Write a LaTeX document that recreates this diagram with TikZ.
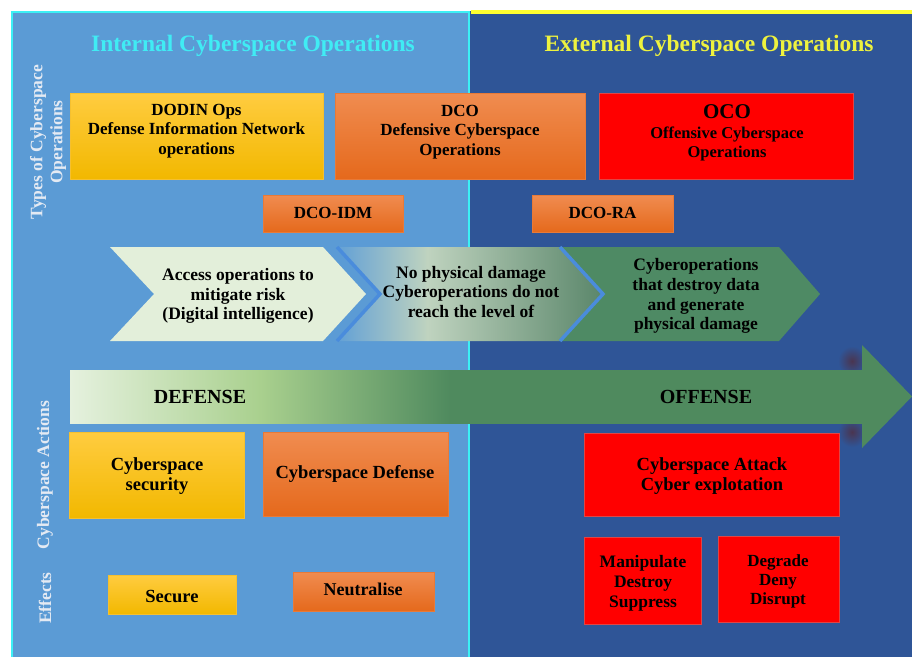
\documentclass[tikz,border=0pt]{standalone}
\usepackage{fontspec}
\setmainfont{Liberation Serif}
\definecolor{leftbg}{HTML}{5B9BD5}
\definecolor{rightbg}{HTML}{2F5597}
\definecolor{cyanln}{HTML}{3CF0F5}
\definecolor{yelln}{HTML}{FFFF30}
\definecolor{cyantitle}{HTML}{40ECF4}
\definecolor{yeltitle}{HTML}{EEF23E}
\definecolor{sidetxt}{HTML}{E4EAF3}
\definecolor{ytop}{HTML}{FFCC40}
\definecolor{ybot}{HTML}{F2B800}
\definecolor{ybord}{HTML}{F5C030}
\definecolor{otop}{HTML}{F08C50}
\definecolor{obot}{HTML}{E5691C}
\definecolor{obord}{HTML}{E87A38}
\definecolor{redbox}{HTML}{FF0000}
\definecolor{rbord}{HTML}{E04545}
\definecolor{chevone}{HTML}{E3EFDA}
\definecolor{chevthree}{HTML}{4E8A64}
\definecolor{chevedge}{HTML}{4A8CDC}
\definecolor{chA}{HTML}{62A0D6}
\definecolor{chB}{HTML}{BFD3BF}
\definecolor{chC}{HTML}{5A866A}
\definecolor{abA}{HTML}{E5F1DE}
\definecolor{abB}{HTML}{A9D08E}
\definecolor{abC}{HTML}{4F8A5E}
\definecolor{shad}{HTML}{4A3550}
\pgfdeclarehorizontalshading{chevmid}{100bp}{color(0bp)=(chA); color(25bp)=(chA); color(42bp)=(chB); color(75bp)=(chC); color(100bp)=(chC)}
\pgfdeclarehorizontalshading{arrowbody}{100bp}{color(0bp)=(abA); color(25bp)=(abA); color(37bp)=(abB); color(49bp)=(abC); color(75bp)=(abC); color(100bp)=(abC)}
\begin{document}
\begin{tikzpicture}[x=1pt,y=-1pt,
  txt/.style={font=\bfseries\fontsize{17}{19.5}\selectfont, align=center, text=black, inner sep=0},
  acttxt/.style={txt, font=\bfseries\fontsize{18.5}{20}\selectfont},
  chevtxt/.style={txt, font=\bfseries\fontsize{17.5}{19.8}\selectfont},
  ybox/.style={draw=ybord, line width=0.4, top color=ytop, bottom color=ybot, inner sep=0},
  obox/.style={draw=obord, line width=0.4, top color=otop, bottom color=obot, inner sep=0},
  rbox/.style={draw=rbord, line width=0.7, fill=redbox, inner sep=0},
  side/.style={font=\bfseries\fontsize{17.5}{20}\selectfont, text=sidetxt, rotate=90, align=center, inner sep=0},
  title/.style={font=\bfseries\fontsize{23.5}{26}\selectfont, inner sep=0}]
\useasboundingbox (0,0) rectangle (912,657);
\fill[white] (0,0) rectangle (912,657);
% panels
\fill[leftbg] (11,11) rectangle (470,657);
\fill[rightbg] (470,11) rectangle (912,657);
\draw[cyanln, line width=2.5] (12.2,657) -- (12.2,12.2) -- (469,12.2) -- (469,657);
\draw[yelln, line width=3.5] (470.5,12.2) -- (912,12.2);
% titles
\node[title, text=cyantitle] (intT) at (253,46) {Internal Cyberspace Operations};
\node[title, text=yeltitle] (extT) at (709,46) {External Cyberspace Operations};
% side labels
\node[side] (typesL) at (48,142) {Types of Cyberspace\\Operations};
\node[side] (actL) at (45,475) {Cyberspace Actions};
\node[side] (effL) at (45,598) {Effects};
% types of operations
\node[ybox, minimum width=253, minimum height=86] (dodin) at (196.5,136) {};
\node[txt] (dodinT) at (196.5,131) {DODIN Ops\\Defense Information Network\\operations};
\node[obox, minimum width=250, minimum height=86] (dco) at (460,136) {};
\node[txt] (dcoT) at (460,132) {DCO\\Defensive Cyberspace\\Operations};
\node[rbox, minimum width=254, minimum height=86] (oco) at (726,136) {};
\node[txt, font=\bfseries\fontsize{16.5}{19.5}\selectfont] (ocoT) at (727,133) {{\fontsize{21}{19.5}\selectfont OCO}\\Offensive Cyberspace\\Operations};
\node[obox, minimum width=140, minimum height=37] (idm) at (333,213.5) {};
\node[txt] (idmT) at (333,213) {DCO-IDM};
\node[obox, minimum width=141, minimum height=37] (ra) at (602.5,213.5) {};
\node[txt] (raT) at (602.5,213) {DCO-RA};
% chevrons
\fill[chevthree] (561,247) -- (779,247) -- (820,294) -- (779,341) -- (561,341) -- (604,294) -- cycle;
\path[shading=chevmid] (337,247) -- (560,247) -- (603,294) -- (560,341) -- (337,341) -- (380,294) -- cycle;
\draw[chevedge, line width=3.5] (337,247) -- (380,294) -- (337,341);
\draw[chevedge, line width=3.5] (560,247) -- (603,294) -- (560,341);
\fill[chevone] (110,247) -- (323,247) -- (366,294) -- (323,341) -- (110,341) -- (154,294) -- cycle;
\node[chevtxt] (c1T) at (238,296) {Access operations to\\mitigate risk\\(Digital intelligence)};
\node[chevtxt] (c2T) at (471,292) {No physical damage\\Cyberoperations do not\\reach the level of};
\node[chevtxt] (c3T) at (696,296) {Cyberoperations\\that destroy data\\and generate\\physical damage};
% big arrow with soft shadow at the head
\shade[inner color=shad, outer color=rightbg] (838,346) rectangle (866,376);
\shade[inner color=shad, outer color=rightbg] (838,417) rectangle (866,447);
\path[shading=arrowbody] (70,370) rectangle (862,423);
\fill[abC] (861,370) -- (862,370) -- (862,345) -- (912,396.5) -- (862,448) -- (862,423) -- (861,423) -- cycle;
\node[txt, font=\bfseries\fontsize{20}{22}\selectfont] (defT) at (200,397) {DEFENSE};
\node[txt, font=\bfseries\fontsize{20}{22}\selectfont] (offT) at (706,397) {OFFENSE};
% actions
\node[ybox, minimum width=175, minimum height=86] (sec) at (156.5,475) {};
\node[acttxt] (secT) at (157,476) {Cyberspace\\security};
\node[obox, minimum width=185, minimum height=84] (def) at (355.5,474) {};
\node[acttxt] (defBT) at (355,474) {Cyberspace Defense};
\node[rbox, minimum width=255, minimum height=83] (att) at (711.5,474.5) {};
\node[acttxt] (attT) at (712,476) {Cyberspace Attack\\Cyber explotation};
% effects
\node[ybox, minimum width=128, minimum height=39] (secure) at (172,594.5) {};
\node[acttxt, font=\bfseries\fontsize{18.5}{20}\selectfont] (secureT) at (172,596) {Secure};
\node[obox, minimum width=141, minimum height=39] (neu) at (363.5,591.5) {};
\node[acttxt, font=\bfseries\fontsize{18}{20}\selectfont] (neuT) at (363,589) {Neutralise};
\node[rbox, minimum width=117, minimum height=87] (man) at (642.5,580.5) {};
\node[txt, font=\bfseries\fontsize{17.5}{20}\selectfont] (manT) at (643,583) {Manipulate\\Destroy\\Suppress};
\node[rbox, minimum width=121, minimum height=86] (deg) at (778.5,579) {};
\node[txt, font=\bfseries\fontsize{17}{19}\selectfont] (degT) at (778,581) {Degrade\\Deny\\Disrupt};
\end{tikzpicture}
\end{document}
